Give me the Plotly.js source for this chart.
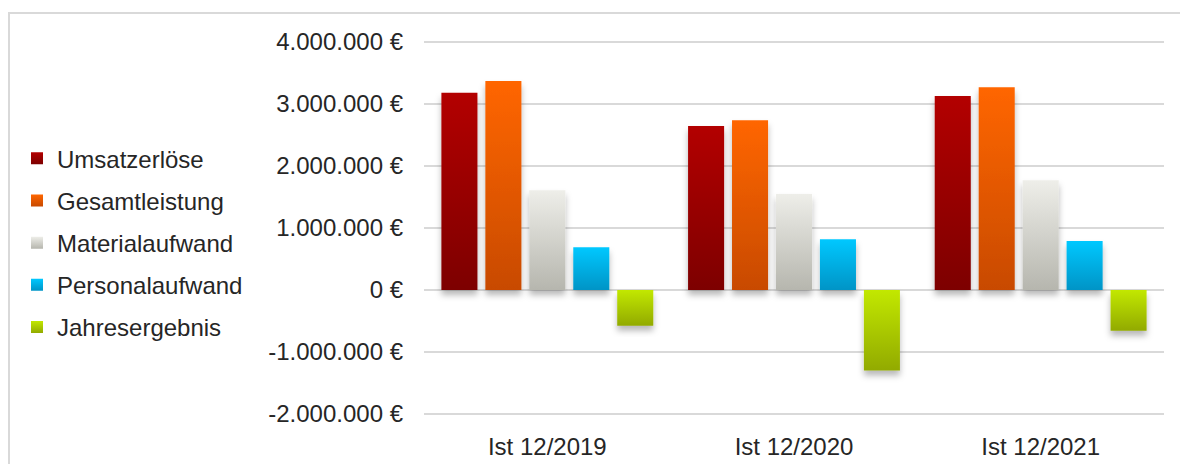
<!DOCTYPE html>
<html>
<head>
<meta charset="utf-8">
<script src="https://cdn.plot.ly/plotly-3.0.1.min.js"></script>
<style>
  html, body { margin: 0; padding: 0; background: #fff; }
  #wrap { position: relative; width: 1180px; height: 464px; overflow: hidden; }
  #chart { width: 1180px; height: 464px; }
  #frame { position: absolute; left: 8px; top: 12px; width: 1200px; height: 500px;
           border-left: 2px solid #d9d9d9; border-top: 2px solid #d9d9d9; pointer-events: none; }
</style>
</head>
<body>
<div id="wrap">
  <div id="chart"></div>
  <div id="frame"></div>
</div>
<script>
// ---- data ----
const categories = ['Ist 12/2019', 'Ist 12/2020', 'Ist 12/2021'];
const seriesNames = ['Umsatzerlöse', 'Gesamtleistung', 'Materialaufwand', 'Personalaufwand', 'Jahresergebnis'];
const umsatzerloese   = [3180000, 2645000, 3130000];
const gesamtleistung  = [3370000, 2740000, 3270000];
const materialaufwand = [1610000, 1550000, 1770000];
const personalaufwand = [690000, 820000, 790000];
const jahresergebnis  = [-575000, -1300000, -656000];
const tickValues = [-2000000, -1000000, 0, 1000000, 2000000, 3000000, 4000000];
const tickLabels = ['-2.000.000 €', '-1.000.000 €', '0 €', '1.000.000 €', '2.000.000 €', '3.000.000 €', '4.000.000 €'];

// ---- styles ----
const gradients = [
  ['#b30000', '#7d0000'],
  ['#ff6600', '#c84a00'],
  ['#eeeee9', '#b6b6ae'],
  ['#00c8ff', '#0094c6'],
  ['#c2e800', '#92aa00']
];
const solid = ['#9a0000', '#e85a00', '#d4d4ce', '#00b0e6', '#aacc00'];
const values = [umsatzerloese, gesamtleistung, materialaufwand, personalaufwand, jahresergebnis];

const FONT = '"Liberation Sans", Arial, sans-serif';
const TXT = '#262626';
const FS = 24;

const traces = values.map((v, i) => ({
  type: 'bar',
  name: seriesNames[i],
  x: categories,
  y: v,
  marker: { color: solid[i], line: { width: 0 } },
  legendgroup: 'g' + i,
  hoverinfo: 'none'
}));

const layout = {
  width: 1180,
  height: 464,
  margin: { l: 424, r: 16, t: 20, b: 34, pad: 0 },
  paper_bgcolor: 'rgba(0,0,0,0)',
  plot_bgcolor: 'rgba(0,0,0,0)',
  font: { family: FONT, size: FS, color: TXT },
  barmode: 'group',
  bargap: 0.109,
  bargroupgap: 0.18,
  showlegend: true,
  legend: {
    x: -0.55, xanchor: 'left',
    y: 0.457, yanchor: 'middle',
    font: { family: FONT, size: FS, color: TXT },
    traceorder: 'grouped',
    tracegroupgap: 8,
    bgcolor: 'rgba(0,0,0,0)'
  },
  xaxis: {
    type: 'category',
    showgrid: false,
    zeroline: false,
    showline: false,
    ticks: '',
    tickfont: { family: FONT, size: FS, color: TXT }
  },
  yaxis: {
    range: [-2258000, 4355000],
    tickmode: 'array',
    tickvals: tickValues,
    ticktext: tickLabels,
    showgrid: true,
    gridcolor: '#d9d9d9',
    gridwidth: 2,
    zeroline: true,
    zerolinecolor: '#d9d9d9',
    zerolinewidth: 2,
    showline: false,
    ticks: '',
    ticklabelstandoff: 20,
    tickfont: { family: FONT, size: FS, color: TXT }
  }
};

function decorate(gd) {
  const svg = gd.querySelector('.main-svg');
  if (!svg) return;
  const NS = 'http://www.w3.org/2000/svg';
  let defs = svg.querySelector('defs#customdefs');
  if (!defs) {
    defs = document.createElementNS(NS, 'defs');
    defs.setAttribute('id', 'customdefs');
    gradients.forEach((g, i) => {
      const lg = document.createElementNS(NS, 'linearGradient');
      lg.setAttribute('id', 'bargrad' + i);
      lg.setAttribute('x1', '0'); lg.setAttribute('y1', '0');
      lg.setAttribute('x2', '0'); lg.setAttribute('y2', '1');
      const s1 = document.createElementNS(NS, 'stop');
      s1.setAttribute('offset', '0'); s1.setAttribute('stop-color', g[0]);
      const s2 = document.createElementNS(NS, 'stop');
      s2.setAttribute('offset', '1'); s2.setAttribute('stop-color', g[1]);
      lg.appendChild(s1); lg.appendChild(s2);
      defs.appendChild(lg);
    });
    const f = document.createElementNS(NS, 'filter');
    f.setAttribute('id', 'barshadow');
    f.setAttribute('x', '-30%'); f.setAttribute('y', '-30%');
    f.setAttribute('width', '160%'); f.setAttribute('height', '160%');
    const ds = document.createElementNS(NS, 'feDropShadow');
    ds.setAttribute('dx', '0'); ds.setAttribute('dy', '5');
    ds.setAttribute('stdDeviation', '3');
    ds.setAttribute('flood-color', '#000');
    ds.setAttribute('flood-opacity', '0.28');
    f.appendChild(ds);
    defs.appendChild(f);
    svg.insertBefore(defs, svg.firstChild);
  }
  const barTraces = gd.querySelectorAll('.barlayer .trace');
  barTraces.forEach((t, i) => {
    t.querySelectorAll('path').forEach(p => {
      p.style.fill = 'url(#bargrad' + i + ')';
      p.setAttribute('filter', 'url(#barshadow)');
    });
  });
  const legTraces = gd.querySelectorAll('.legend .traces');
  legTraces.forEach((t, i) => {
    t.querySelectorAll('.legendpoints path').forEach(p => {
      p.style.fill = 'url(#bargrad' + i + ')';
    });
  });
}

Plotly.newPlot('chart', traces, layout, { displayModeBar: false, staticPlot: true }).then(gd => {
  decorate(gd);
  gd.on('plotly_afterplot', () => decorate(gd));
});
</script>
</body>
</html>
